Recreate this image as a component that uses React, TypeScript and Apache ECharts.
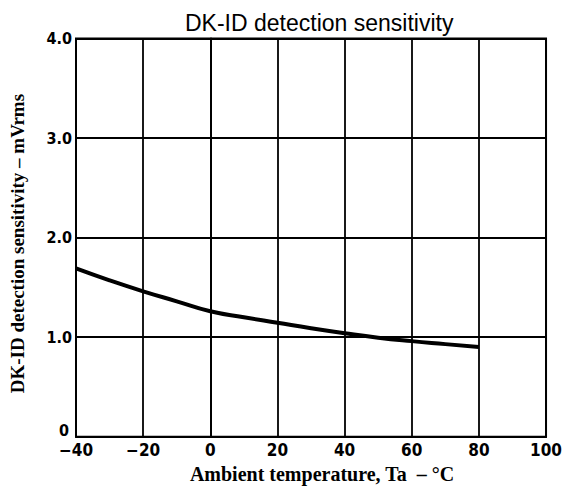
import React, { useEffect, useRef } from "react";
import * as echarts from "echarts";

const temperatures = [-40, -30, -20, -10, 0, 10, 20, 30, 40, 50, 60, 70, 80];
const sensitivity = [1.69, 1.57, 1.46, 1.36, 1.26, 1.2, 1.145, 1.09, 1.04, 0.995, 0.96, 0.93, 0.9];
const xTicks = [-40, -20, 0, 20, 40, 60, 80, 100];
const yTicks = [0, 1, 2, 3, 4];

const titleText = "DK-ID detection sensitivity";
const xName = "Ambient temperature, Ta  \u2013 \u00b0C";
const yName = "DK-ID detection sensitivity \u2013 mVrms";

const tickFont = "'Liberation Sans Narrow', 'DejaVu Sans Condensed', 'Liberation Sans', Arial, sans-serif";
const serifFont = "'Liberation Serif', 'Times New Roman', serif";

export default function App() {
  const ref = useRef<HTMLDivElement>(null);
  useEffect(() => {
    document.body.style.margin = "0";
    const chart = echarts.init(ref.current!, null, { renderer: "svg" });
    const data = temperatures.map((t, i) => [t, sensitivity[i]]);
    chart.setOption({
      animation: false,
      backgroundColor: "#ffffff",
      title: {
        text: titleText,
        left: 185,
        top: 11,
        padding: 0,
        textStyle: {
          fontFamily: "'Liberation Sans', Arial, sans-serif",
          fontSize: 23,
          fontWeight: "normal",
          color: "#000",
        },
      },
      grid: {
        left: 69,
        right: 8,
        top: 38.5,
        bottom: 55.3,
        show: true,
        borderColor: "#000",
        borderWidth: 2,
        backgroundColor: "transparent",
      },
      xAxis: {
        type: "value",
        min: xTicks[0],
        max: xTicks[xTicks.length - 1],
        interval: 20,
        name: xName,
        nameLocation: "middle",
        nameGap: 24,
        nameTextStyle: {
          fontFamily: serifFont,
          fontSize: 20,
          fontWeight: "bold",
          color: "#000",
          padding: [0, 0, 0, 22],
          verticalAlign: "top",
        },
        axisLine: { show: true, lineStyle: { color: "#000", width: 2 } },
        axisTick: { show: false },
        splitLine: { show: true, lineStyle: { color: "#000", width: 1.8 } },
        axisLabel: {
          margin: 5,
          fontFamily: tickFont,
          fontSize: 17,
          fontWeight: "bold",
          color: "#000",
          formatter: (v: number) => (v < 0 ? "\u2212" + Math.abs(v) : String(v)),
        },
      },
      yAxis: {
        type: "value",
        min: yTicks[0],
        max: yTicks[yTicks.length - 1],
        interval: 1,
        name: yName,
        nameLocation: "middle",
        nameRotate: 90,
        nameGap: 49,
        nameTextStyle: {
          fontFamily: serifFont,
          fontSize: 19,
          fontWeight: "bold",
          color: "#000",
          padding: [0, 12, 0, 0],
        },
        axisLine: { show: true, lineStyle: { color: "#000", width: 2 } },
        axisTick: { show: false },
        splitLine: { show: true, lineStyle: { color: "#000", width: 1.8 } },
        axisLabel: {
          margin: 4,
          fontFamily: tickFont,
          fontSize: 16,
          fontWeight: "bold",
          color: "#000",
          formatter: (v: number) => (v === 0 ? "{z|0}" : v.toFixed(1)),
          rich: {
            z: {
              fontFamily: tickFont,
              fontSize: 16,
              fontWeight: "bold",
              color: "#000",
              padding: [0, 3, 13, 0],
            },
          },
        },
      },
      series: [
        {
          type: "line",
          data,
          smooth: true,
          showSymbol: false,
          lineStyle: { color: "#000", width: 4 },
        },
      ],
    });
    return () => chart.dispose();
  }, []);
  return <div ref={ref} style={{ width: 565, height: 492 }} />;
}
